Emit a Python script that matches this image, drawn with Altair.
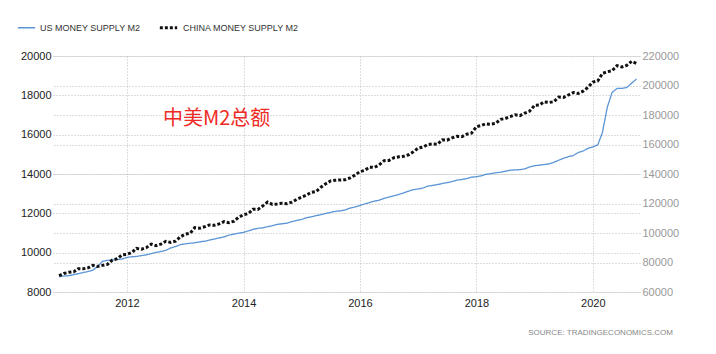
import altair as alt
import pandas as pd

months = pd.date_range("2010-11-01", periods=120, freq="MS").strftime("%Y/%m/%d").tolist()

series_names = ["US MONEY SUPPLY M2", "CHINA MONEY SUPPLY M2"]

us_m2 = [
    8780, 8810,
    8830, 8880, 8930, 8990, 9040, 9110, 9300, 9560, 9610, 9620, 9660, 9670,
    9760, 9790, 9810, 9850, 9890, 9950, 10010, 10060, 10120, 10240, 10310, 10410,
    10450, 10480, 10500, 10550, 10580, 10640, 10690, 10750, 10800, 10890, 10940, 10990,
    11030, 11110, 11180, 11240, 11260, 11320, 11370, 11440, 11470, 11500, 11580, 11640,
    11690, 11780, 11820, 11880, 11930, 11990, 12050, 12100, 12130, 12170, 12270, 12320,
    12400, 12480, 12550, 12620, 12670, 12760, 12830, 12890, 12960, 13040, 13130, 13200,
    13240, 13290, 13380, 13420, 13460, 13520, 13560, 13620, 13690, 13720, 13770, 13840,
    13860, 13910, 13980, 14020, 14060, 14090, 14140, 14190, 14210, 14220, 14260, 14360,
    14420, 14450, 14480, 14510, 14590, 14700, 14800, 14880, 14940, 15090, 15170, 15300,
    15380, 15480, 16100, 17400, 18150, 18350, 18350, 18400, 18620, 18830,
]

china_m2 = [
    71020, 72590,
    73340, 73660, 75810, 75740, 76340, 78080, 77290, 78070, 78740, 81680, 82560, 85160,
    85560, 86740, 89560, 88960, 90090, 92500, 91390, 92490, 94370, 93640, 94450, 97410,
    99220, 99860, 103610, 103250, 104210, 105450, 105220, 106130, 107740, 107020, 107930, 110650,
    112350, 113180, 116070, 116000, 118240, 120960, 119410, 119730, 120200, 119900, 120960, 122840,
    124270, 125740, 127530, 128080, 131000, 133340, 135320, 135700, 135980, 136100, 137400, 139230,
    141630, 142450, 144620, 144450, 146170, 149050, 149160, 151000, 151640, 151950, 153040, 155010,
    157590, 158290, 159960, 160330, 160140, 163130, 162900, 164520, 165570, 165340, 167000, 167680,
    172080, 172910, 173990, 173770, 174310, 177020, 177620, 178870, 180170, 179560, 181330, 182670,
    186590, 186740, 188940, 188460, 189020, 192140, 191940, 193550, 195230, 194560, 196140, 198650,
    202310, 203080, 208090, 209350, 210020, 213490, 212550, 213680, 216420, 214970,
]

tick_years = [2012, 2014, 2016, 2018, 2020]
left_ticks = [8000, 10000, 12000, 14000, 16000, 18000, 20000]
right_ticks = [60000, 80000, 100000, 120000, 140000, 160000, 180000, 200000, 220000]

annotation = ["中美M2总额"]
source_text = ["SOURCE:  TRADINGECONOMICS.COM"]

df = pd.DataFrame({
    "date": months * 2,
    "value": us_m2 + china_m2,
    "series": [series_names[0]] * len(us_m2) + [series_names[1]] * len(china_m2),
})

FONT = "Liberation Sans"
grid_kw = dict(grid=True, gridDash=[1, 2], gridColor="#bdbdbd", gridWidth=1)

x_enc = alt.X(
    "date:T",
    title=None,
    scale=alt.Scale(domain=[alt.DateTime(year=2010, month=9, date=24),
                            alt.DateTime(year=2020, month=10, date=23)]),
    axis=alt.Axis(
        values=[alt.DateTime(year=y, month=1, date=1) for y in tick_years],
        format="%Y", domain=False, ticks=False, tickSize=0, labelPadding=5,
        labelFont=FONT, labelFontSize=11, labelColor="#222", labelAngle=0,
        **grid_kw,
    ),
)

color_enc = alt.Color("series:N", scale=alt.Scale(domain=series_names, range=["#5b95d6", "#111111"]),
                      legend=alt.Legend(
                          title=None, orient="none", legendX=-36, legendY=-39,
                          direction="horizontal", symbolType="stroke", symbolSize=300,
                          labelFont=FONT, labelFontSize=9, labelColor="#333",
                          columnPadding=12, labelOffset=4,
                      ))
dash_enc = alt.StrokeDash("series:N", scale=alt.Scale(domain=series_names, range=[[1, 0], [3, 2]]))
width_enc = alt.StrokeWidth("series:N", scale=alt.Scale(domain=series_names, range=[1.3, 3]))

base = alt.Chart(df)

us_line = base.transform_filter(alt.datum.series == series_names[0]).mark_line().encode(
    x=x_enc,
    y=alt.Y("value:Q", title=None,
            scale=alt.Scale(domain=[8000, 20000], nice=False, zero=False),
            axis=alt.Axis(orient="left", values=left_ticks, format="d", domain=False,
                          ticks=False, tickSize=0, labelPadding=2,
                          labelFont=FONT, labelFontSize=11, labelColor="#222", **grid_kw)),
    color=color_enc, strokeDash=dash_enc, strokeWidth=width_enc,
)

china_line = base.transform_filter(alt.datum.series == series_names[1]).mark_line().encode(
    x=x_enc,
    y=alt.Y("value:Q", title=None,
            scale=alt.Scale(domain=[60000, 220000], nice=False, zero=False),
            axis=alt.Axis(orient="right", values=right_ticks, format="d", domain=False,
                          ticks=False, tickSize=0, labelPadding=2,
                          labelFont=FONT, labelFontSize=11, labelColor="#999", **grid_kw)),
    color=color_enc, strokeDash=dash_enc, strokeWidth=width_enc,
)

anno = alt.Chart(pd.DataFrame({"t": annotation})).mark_text(
    align="left", baseline="middle", font="Noto Sans CJK SC", fontSize=20, color="#ee2a24"
).encode(x=alt.value(110), y=alt.value(63), text="t:N")

src = alt.Chart(pd.DataFrame({"t": source_text})).mark_text(
    align="right", baseline="middle", font=FONT, fontSize=8, color="#888"
).encode(x=alt.value(620), y=alt.value(277), text="t:N")

chart = alt.layer(us_line, china_line, anno, src).resolve_scale(y="independent").properties(
    width=587, height=236,
    autosize=alt.AutoSizeParams(type="none"),
    padding={"left": 53, "top": 56, "right": 76, "bottom": 62},
    background="white",
).configure_view(strokeWidth=0)

chart.save("out.html", embed_options={"renderer": "svg", "actions": False})
